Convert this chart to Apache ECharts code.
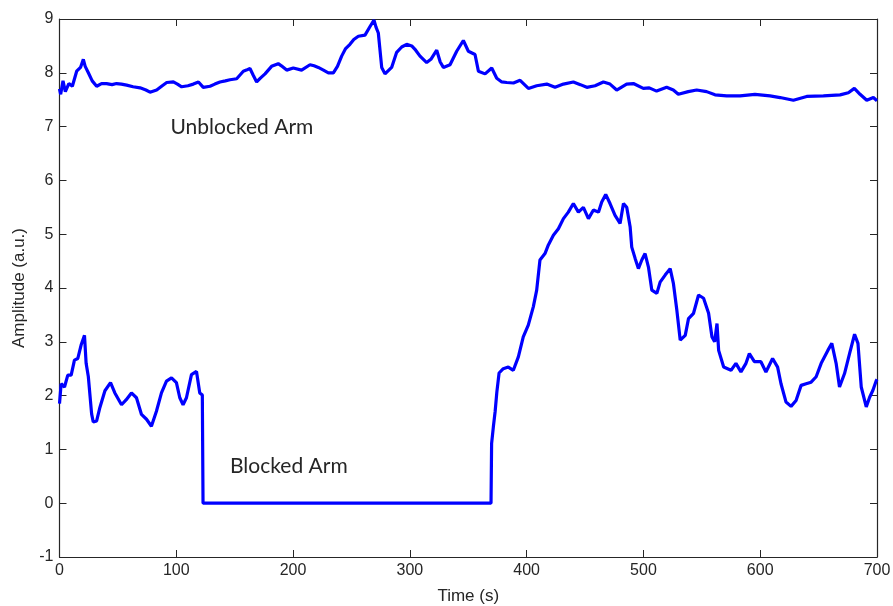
<!DOCTYPE html>
<html>
<head>
<meta charset="utf-8">
<script src="https://cdn.jsdelivr.net/npm/echarts@6/dist/echarts.min.js"></script>
<style>html,body{margin:0;padding:0;background:#fff}#c{width:893px;height:606px}</style>
</head>
<body>
<div id="c"></div>
<script>
var xTicks = [0,100,200,300,400,500,600,700];
var yTicks = [-1,0,1,2,3,4,5,6,7,8,9];

var unblockedTime = [0,1,3,5,8,11,14.7,18,20.4,22,24.7,28,31.8,36,40.3,45,48.8,53,57.5,63,69,74,77.5,83.2,88,91.8,97.5,101,104.6,110,114.6,119,123.1,128.9,133,137.4,142,146,151.7,157.4,160,163.1,166,168.8,172,176,181.6,187.3,190,194.5,200.2,207.3,214.5,218,221.6,226,230.2,234.5,238,241.6,245,248.7,252,255.9,261.6,265.9,269.3,271,273,275.9,278.7,284.4,288.7,293,297.3,301.6,305,308.7,314.4,318,323,326,328.7,334.4,340.1,345.8,350.1,355.8,358.7,364.4,370.1,374.4,378.7,383,388.7,394.4,401.5,408.6,417.2,424.3,431.5,440,446,451.5,458.6,465.7,471.4,477.1,485.6,491.4,499.9,505,511.3,519.9,525.6,529.9,538.4,545.6,554.1,561.3,571.3,582.7,595.5,608.4,617,628.4,639.8,654.1,668.4,675.5,680.6,685.5,691.2,696.9,700];
var unblockedAmp = [7.7,7.6,7.85,7.65,7.8,7.75,8.03,8.1,8.25,8.12,8.0,7.85,7.75,7.8,7.8,7.78,7.8,7.79,7.77,7.74,7.72,7.68,7.64,7.68,7.76,7.82,7.83,7.79,7.74,7.76,7.79,7.83,7.73,7.75,7.79,7.83,7.85,7.87,7.89,8.03,8.05,8.08,7.95,7.83,7.9,7.98,8.12,8.17,8.13,8.05,8.09,8.05,8.15,8.13,8.1,8.05,8.0,8.0,8.12,8.31,8.45,8.53,8.62,8.68,8.7,8.86,8.98,8.85,8.74,8.1,7.98,8.1,8.38,8.48,8.53,8.5,8.42,8.31,8.19,8.25,8.42,8.2,8.1,8.15,8.4,8.6,8.4,8.34,8.03,7.98,8.09,7.9,7.83,7.82,7.81,7.86,7.71,7.76,7.79,7.73,7.79,7.83,7.78,7.73,7.76,7.83,7.79,7.68,7.79,7.8,7.71,7.72,7.66,7.73,7.68,7.6,7.65,7.68,7.65,7.59,7.57,7.57,7.6,7.57,7.54,7.49,7.56,7.57,7.59,7.63,7.71,7.6,7.49,7.54,7.48];

var blockedTime = [0,1.4,4.3,7.1,10,12.8,15.7,18.5,21.4,22.8,24.7,27.5,28.9,31.8,34.6,38.9,43.7,47.4,53.1,57,61.6,65.9,70.2,74.5,78.7,83,87.3,91.6,95.9,100.1,103,105.8,108.7,113,117.3,120.1,122.3,122.9,369.5,370,371.5,373,374.5,376.4,380,384.3,388.6,392.9,397.1,401.4,405.7,408.6,411.4,415.7,418.6,422.9,427.2,431.5,435.7,440,444.3,448.6,452.9,457.2,461.5,464.3,467.7,471.4,475.7,480,482.9,485.7,488.6,490,492.9,495.7,498.6,501.4,504.3,507.2,511.5,514.3,518.6,522.9,525.7,528.6,531.5,535.8,538.6,542.9,547.2,551.5,555.8,558.7,561,563,564.4,568.7,575,579.2,583.5,587.8,590.7,595,600.6,604.9,610.6,614.9,617.8,622.1,626.4,630.7,635,639.3,643.6,647.9,652.2,657.9,661.3,665,667.9,672.2,676.5,680.8,683.7,686.5,690.8,693.7,696.5,699.4,700];
var blockedAmp = [1.85,2.22,2.16,2.38,2.38,2.66,2.69,2.94,3.12,2.6,2.35,1.66,1.51,1.53,1.78,2.09,2.24,2.05,1.83,1.92,2.05,1.96,1.65,1.56,1.43,1.71,2.05,2.27,2.33,2.24,1.96,1.83,1.96,2.39,2.45,2.05,2.01,0,0,1.11,1.42,1.7,2.07,2.42,2.5,2.53,2.47,2.72,3.09,3.31,3.65,3.96,4.52,4.64,4.8,4.98,5.1,5.29,5.41,5.57,5.41,5.5,5.29,5.45,5.41,5.6,5.74,5.57,5.35,5.2,5.57,5.5,5.14,4.76,4.55,4.36,4.52,4.64,4.39,3.96,3.9,4.11,4.24,4.36,4.08,3.59,3.03,3.12,3.43,3.53,3.87,3.81,3.53,3.09,3.0,3.34,2.84,2.53,2.47,2.6,2.44,2.6,2.78,2.63,2.63,2.44,2.69,2.53,2.22,1.88,1.8,1.91,2.19,2.22,2.25,2.35,2.6,2.84,2.97,2.6,2.16,2.41,2.78,3.14,2.97,2.16,1.79,1.97,2.1,2.28,2.3];

var annotations = [
  {name: 'Unblocked Arm', coord: [95, 6.98]},
  {name: 'Blocked Arm', coord: [146, 0.69]}
];

function pairs(xs, ys){ return xs.map(function(x,i){ return [x, ys[i]]; }); }

var axisColor = '#262626';
var tickFont = {fontFamily: 'Liberation Sans, Arial, sans-serif', fontSize: 16, color: '#262626'};
var noteLabel = {show: true, position: 'right', distance: 0, formatter: '{b}',
  fontFamily: 'Lato, sans-serif', fontSize: 21, color: '#262626'};

var chart = echarts.init(document.getElementById('c'), null, {renderer: 'canvas'});
chart.setOption({
  animation: false,
  backgroundColor: '#fff',
  grid: {left: 59.5, right: 16, top: 19, bottom: 49, containLabel: false, outerBoundsMode: 'none'},
  xAxis: [{
    type: 'value', min: xTicks[0], max: xTicks[xTicks.length-1], interval: 100,
    name: 'Time (s)', nameLocation: 'middle', nameGap: 31,
    nameTextStyle: {fontFamily: 'Liberation Sans, Arial, sans-serif', fontSize: 17, color: '#262626'},
    axisLine: {show: true, onZero: false, lineStyle: {color: axisColor, width: 1.2}},
    axisTick: {show: true, inside: true, length: 7, lineStyle: {color: axisColor}},
    axisLabel: Object.assign({margin: 6}, tickFont),
    splitLine: {show: false}
  },{
    type: 'value', position: 'top', min: xTicks[0], max: xTicks[xTicks.length-1], interval: 100,
    axisLine: {show: true, onZero: false, lineStyle: {color: axisColor, width: 1.2}},
    axisTick: {show: true, inside: true, length: 7, lineStyle: {color: axisColor}},
    axisLabel: {show: false}, splitLine: {show: false}
  }],
  yAxis: [{
    type: 'value', min: yTicks[0], max: yTicks[yTicks.length-1], interval: 1,
    name: 'Amplitude (a.u.)', nameLocation: 'middle', nameGap: 32,
    nameTextStyle: {fontFamily: 'Liberation Sans, Arial, sans-serif', fontSize: 17, color: '#262626'},
    axisLine: {show: true, onZero: false, lineStyle: {color: axisColor, width: 1.2}},
    axisTick: {show: true, inside: true, length: 7, lineStyle: {color: axisColor}},
    axisLabel: Object.assign({margin: 6}, tickFont),
    splitLine: {show: false}
  },{
    type: 'value', position: 'right', min: yTicks[0], max: yTicks[yTicks.length-1], interval: 1,
    axisLine: {show: true, onZero: false, lineStyle: {color: axisColor, width: 1.2}},
    axisTick: {show: true, inside: true, length: 7, lineStyle: {color: axisColor}},
    axisLabel: {show: false}, splitLine: {show: false}
  }],
  series: [{
    name: 'Unblocked Arm', type: 'line', data: pairs(unblockedTime, unblockedAmp),
    symbol: 'none', lineStyle: {color: '#0000ff', width: 3.2}, itemStyle: {color: '#0000ff'},
    markPoint: {
      symbol: 'circle', symbolSize: 0, label: noteLabel,
      data: [{name: annotations[0].name, coord: annotations[0].coord}]
    }
  },{
    name: 'Blocked Arm', type: 'line', data: pairs(blockedTime, blockedAmp),
    symbol: 'none', lineStyle: {color: '#0000ff', width: 3.2}, itemStyle: {color: '#0000ff'},
    markPoint: {
      symbol: 'circle', symbolSize: 0, label: noteLabel,
      data: [{name: annotations[1].name, coord: annotations[1].coord}]
    }
  }]
});
</script>
</body>
</html>
